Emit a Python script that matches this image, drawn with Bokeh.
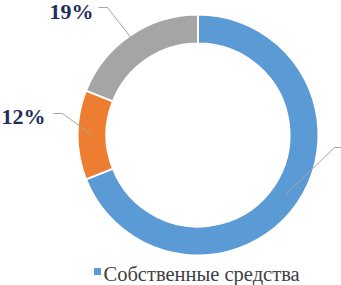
import math
from bokeh.plotting import figure
from bokeh.models import Range1d, ColumnDataSource, Label
from bokeh.embed import file_html
from bokeh.resources import INLINE

# ---- data ----
categories = ["Собственные средства", "Заемные средства", "Прочие источники"]
shares = [69, 12, 19]
pct_labels = ["69%", "12%", "19%"]
colors = ["#5B9BD5", "#ED7D31", "#A5A5A5"]
legend_labels = ["Собственные средства"]

# ---- layout (reference pixel space) ----
W, H = 341, 285
SERIF = "Liberation Serif"


def Y(yref):
    return H - yref


CX, CY = 197.5, Y(134.5)
R_OUT, R_IN = 120.5, 91.5
R_MID = (R_OUT + R_IN) / 2

p = figure(width=W, height=H, output_backend="svg", toolbar_location=None,
           x_range=Range1d(0, W), y_range=Range1d(0, H), min_border=0)
p.axis.visible = False
p.grid.visible = False
p.outline_line_color = None

total = sum(shares)
starts, ends, mids = [], [], []
a = math.pi / 2
for v in shares:
    e = a - 2 * math.pi * v / total
    starts.append(a)
    ends.append(e)
    mids.append((a + e) / 2)
    a = e

src = ColumnDataSource(dict(start=starts, end=ends, color=colors))
p.annular_wedge(x=CX, y=CY, inner_radius=R_IN, outer_radius=R_OUT,
                start_angle="start", end_angle="end", direction="clock",
                fill_color="color", line_color="white", line_width=2, source=src)

# leader lines: label side point -> elbow -> middle of ring at slice mid-angle
leader_start = {0: (342, 147), 1: (53, 113), 2: (98, 7)}
leader_elbow = {0: (334, 147), 1: (62, 113), 2: (107, 7)}
for i in range(len(shares)):
    mx = CX + R_MID * math.cos(mids[i])
    my = CY + R_MID * math.sin(mids[i])
    sx, sy = leader_start[i]
    ex, ey = leader_elbow[i]
    p.line([sx, ex, mx], [Y(sy), Y(ey), my], line_color="#A6A6A6", line_width=1)

# legend marker
p.scatter(x=[97], y=[Y(271)], marker="square", size=7,
          fill_color=colors[0], line_color=None)

# percentage labels (the 69% label lies beyond the right edge in the reference)
label_pos = {1: (45, 128), 2: (93, 23)}
for i, (lx, ly) in label_pos.items():
    p.add_layout(Label(x=lx, y=Y(ly), text=pct_labels[i], text_align="right",
                       text_font=SERIF, text_font_style="bold",
                       text_font_size="22px", text_color="#1F2D5A"))

# legend text
p.add_layout(Label(x=103, y=Y(284), text=legend_labels[0],
                   text_font=SERIF, text_font_size="20.5px", text_color="#404040"))

open("out.html", "w").write(file_html(p, INLINE))
